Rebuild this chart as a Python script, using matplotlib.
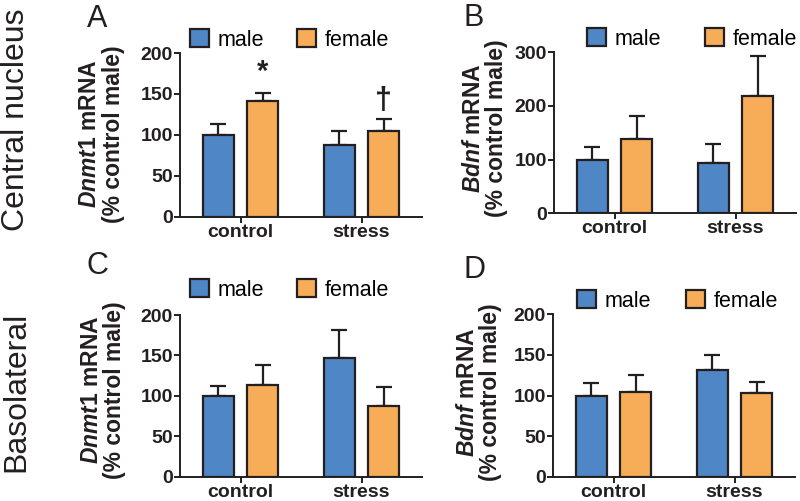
import matplotlib
matplotlib.use("Agg")
import matplotlib.pyplot as plt
from matplotlib.patches import Patch
import numpy as np

plt.rcParams['font.family'] = ['Liberation Sans', 'DejaVu Sans']
plt.rcParams['mathtext.fontset'] = 'custom'
plt.rcParams['mathtext.it'] = 'Liberation Sans:italic:bold'
plt.rcParams['mathtext.rm'] = 'Liberation Sans:bold'

categories = ['control', 'stress']
series = ['male', 'female']

A_male = [100, 87]
A_male_err = [13, 18]
A_female = [141, 105]
A_female_err = [10, 14]

B_male = [100, 93]
B_male_err = [23, 37]
B_female = [139, 219]
B_female_err = [43, 74]

C_male = [100, 147]
C_male_err = [12, 35]
C_female = [113, 87]
C_female_err = [25, 24]

D_male = [100, 131]
D_male_err = [15, 19]
D_female = [104, 103]
D_female_err = [21, 14]

BLUE = '#4F86C6'
ORANGE = '#F7AD57'
INK = '#231F20'

W, H = 800, 501
fig = plt.figure(figsize=(W / 100, H / 100), dpi=100)


def ax_at(x0, x1, ytop, ybot):
    return fig.add_axes([x0 / W, 1 - ybot / H, (x1 - x0) / W, (ybot - ytop) / H])


def fx(px):
    return px / W


def fy(py):
    return 1 - py / H


def draw_panel(ax, male, male_err, female, female_err, ymax, step):
    x = np.arange(len(categories))
    off, bw = 0.185, 0.255
    for vals, errs, col, dx in [(male, male_err, BLUE, -off), (female, female_err, ORANGE, off)]:
        ax.bar(x + dx, vals, width=bw, color=col, edgecolor=INK, linewidth=1.6, zorder=3)
        ax.errorbar(x + dx, vals, yerr=[np.zeros(len(vals)), errs], fmt='none',
                    ecolor=INK, elinewidth=1.6, capsize=6, capthick=1.6, zorder=2)
    ax.set_xlim(-0.5, 1.5)
    ax.set_ylim(0, ymax)
    ax.set_yticks(np.arange(0, ymax + 1, step))
    ax.set_xticks(x)
    ax.set_xticklabels(categories)
    for s in ['top', 'right']:
        ax.spines[s].set_visible(False)
    for s in ['left', 'bottom']:
        ax.spines[s].set_linewidth(1.4)
        ax.spines[s].set_color(INK)
    ax.tick_params(axis='both', direction='out', length=4, width=1.4, color=INK,
                   labelsize=14, pad=1)
    for lab in ax.get_xticklabels() + ax.get_yticklabels():
        lab.set_fontweight('bold')
        lab.set_color(INK)


def legend(ax, x_px, y_px, colspace):
    handles = [Patch(facecolor=BLUE, edgecolor=INK, linewidth=1.6, label='male'),
               Patch(facecolor=ORANGE, edgecolor=INK, linewidth=1.6, label='female')]
    ax.legend(handles=handles, ncol=2, loc='center left', frameon=False,
              bbox_to_anchor=(fx(x_px), fy(y_px)), bbox_transform=fig.transFigure,
              fontsize=15.5, handlelength=0.9, handleheight=0.9, handletextpad=0.4,
              columnspacing=colspace, borderpad=0, borderaxespad=0)


def ylabel2(x1, x2, yc, gene):
    fig.text(fx(x1), fy(yc), r'$\mathit{' + gene + r'}$ mRNA', rotation=90,
             ha='center', va='center', fontsize=16.5, fontweight='bold', color=INK)
    fig.text(fx(x2), fy(yc), '(% control male)', rotation=90,
             ha='center', va='center', fontsize=16.5, fontweight='bold', color=INK)


axA = ax_at(180, 422, 53, 216.7)
draw_panel(axA, A_male, A_male_err, A_female, A_female_err, 200, 50)
axB = ax_at(554, 796, 52.3, 213.3)
draw_panel(axB, B_male, B_male_err, B_female, B_female_err, 300, 100)
axC = ax_at(180, 422, 315, 476.7)
draw_panel(axC, C_male, C_male_err, C_female, C_female_err, 200, 50)
axD = ax_at(553, 795, 314.3, 476.7)
draw_panel(axD, D_male, D_male_err, D_female, D_female_err, 200, 50)

# significance markers
axA.text(0.185, 177, '*', ha='center', va='center', fontsize=21, fontweight='bold', color=INK)
axA.text(1.185, 141, '\u2020', ha='center', va='center', fontsize=22, fontweight='bold', color=INK)

legend(axA, 190, 40, 1.5)
legend(axB, 587, 39, 2.0)
legend(axC, 190, 290, 1.5)
legend(axD, 577, 301, 1.6)

ylabel2(90, 114, 134, 'Dnmt1')
ylabel2(473, 496, 128, 'Bdnf')
ylabel2(91, 115, 390, 'Dnmt1')
ylabel2(467, 490, 392, 'Bdnf')

# panel letters
for lt, x, y in [('A', 87, 4), ('B', 464, 3), ('C', 87, 251), ('D', 464, 255)]:
    fig.text(fx(x), fy(y), lt, ha='left', va='top', fontsize=22, color=INK)

# row labels
fig.text(fx(1), fy(120), 'Central nucleus', rotation=90, ha='left', va='center',
         fontsize=23, color=INK)
fig.text(fx(1), fy(392), 'Basolateral', rotation=90, ha='left', va='center',
         fontsize=23, color=INK)

fig.savefig('out.png', dpi=100)
